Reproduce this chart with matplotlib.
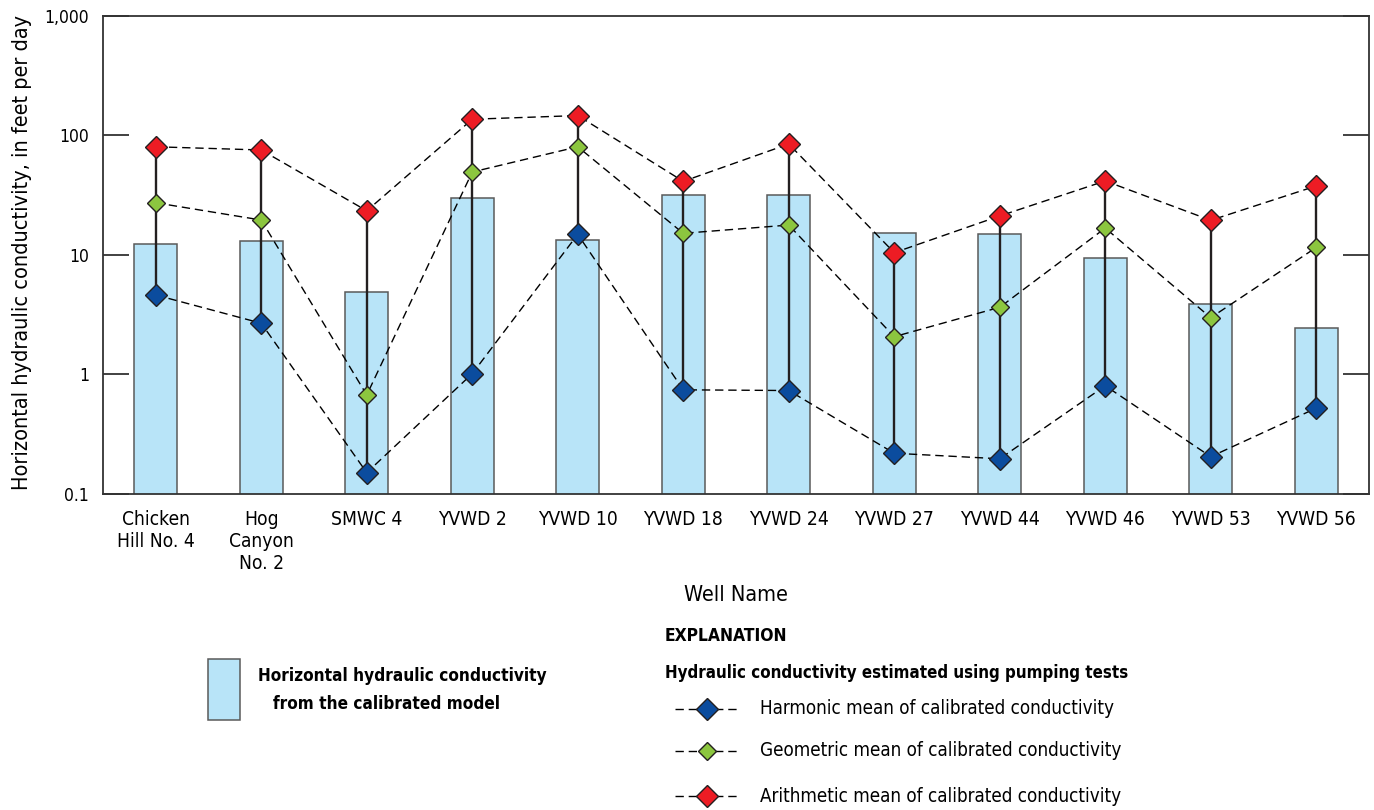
import matplotlib
matplotlib.use("Agg")
import matplotlib.pyplot as plt
from matplotlib.patches import Rectangle
from matplotlib.lines import Line2D

plt.rcParams['font.family'] = ['DejaVu Sans']
plt.rcParams['font.stretch'] = 'condensed'

# data (feet per day)
wells = ['Chicken\nHill No. 4', 'Hog\nCanyon\nNo. 2', 'SMWC 4', 'YVWD 2', 'YVWD 10', 'YVWD 18',
         'YVWD 24', 'YVWD 27', 'YVWD 44', 'YVWD 46', 'YVWD 53', 'YVWD 56']
model_k = [12.2, 13.0, 4.85, 29.8, 13.3, 31.8, 31.4, 15.3, 14.8, 9.33, 3.89, 2.45]
harmonic = [4.6, 2.67, 0.15, 1.01, 14.8, 0.74, 0.73, 0.218, 0.196, 0.80, 0.204, 0.52]
geometric = [27.2, 19.5, 0.67, 49.2, 80, 15.1, 17.7, 2.06, 3.63, 16.7, 2.97, 11.5]
arithmetic = [80, 75.2, 23.3, 136, 146, 41.1, 84.4, 10.4, 21.1, 41.4, 19.4, 37.6]

bar_color = '#B8E4F8'
bar_edge = '#5A5A5A'
blue = '#0B4C9E'
green = '#8CC63F'
red = '#ED1C24'
dark = '#231F20'

W, H = 1374, 810
fig = plt.figure(figsize=(W / 100, H / 100), dpi=100)
ax = fig.add_axes([103 / W, 1 - 493.7 / H, 1266 / W, 478 / H])

x = list(range(len(wells)))
ax.bar(x, model_k, width=0.405, color=bar_color, edgecolor=bar_edge, linewidth=1.1, zorder=1)

# range line from harmonic to arithmetic mean
ax.vlines(x, harmonic, arithmetic, color=dark, linewidth=1.7, zorder=2)

dash = (0, (6, 3.5))
series = [(harmonic, blue, 11.5), (geometric, green, 9), (arithmetic, red, 11.5)]
for vals, col, ms in series:
    ax.plot(x, vals, color='black', linewidth=1.0, linestyle=dash, zorder=3)
    ax.plot(x, vals, linestyle='none', marker='D', markersize=ms, markerfacecolor=col,
            markeredgecolor=dark, markeredgewidth=1.0, zorder=4)

ax.set_yscale('log')
ax.set_ylim(0.1, 1000)
ax.set_xlim(-0.5, 11.5)
ax.set_yticks([0.1, 1, 10, 100, 1000])
ax.set_yticklabels(['0.1', '1', '10', '100', '1,000'])
ax.minorticks_off()
ax.tick_params(axis='y', direction='in', length=19, width=1.3, color='#333333',
               labelsize=12.5, right=True, pad=10)
ax.set_xticks(x)
ax.set_xticklabels(wells, fontsize=13.8, va='top', linespacing=1.2)
ax.tick_params(axis='x', length=0, pad=12)
for s in ax.spines.values():
    s.set_color('#333333')
    s.set_linewidth(1.3)

fig.text(22 / W, 1 - 252 / H, 'Horizontal hydraulic conductivity, in feet per day', fontsize=15.5,
         rotation=90, ha='center', va='center')
fig.text(736 / W, 1 - 595 / H, 'Well Name', fontsize=15.5, ha='center', va='center')

# explanation
fig.add_artist(Rectangle((208 / W, 1 - 720 / H), 32 / W, 61 / H, transform=fig.transFigure,
                         facecolor=bar_color, edgecolor=bar_edge, linewidth=1.1))
fig.text(258 / W, 1 - 676 / H, 'Horizontal hydraulic conductivity', fontsize=12.3,
         fontweight='bold', va='center')
fig.text(273 / W, 1 - 704 / H, 'from the calibrated model', fontsize=12.3,
         fontweight='bold', va='center')
fig.text(665 / W, 1 - 636 / H, 'EXPLANATION', fontsize=12.5, fontweight='bold', va='center')
fig.text(665 / W, 1 - 673 / H, 'Hydraulic conductivity estimated using pumping tests',
         fontsize=12.2, fontweight='bold', va='center')
entries = [(blue, 11.5, 709, 'Harmonic mean of calibrated conductivity'),
           (green, 9, 751, 'Geometric mean of calibrated conductivity'),
           (red, 11.5, 796, 'Arithmetic mean of calibrated conductivity')]
for col, ms, yp, label in entries:
    yf = 1 - yp / H
    fig.add_artist(Line2D([675 / W, 740 / W], [yf, yf], transform=fig.transFigure,
                          color='black', linewidth=1.0, linestyle=dash))
    fig.add_artist(Line2D([707 / W], [yf], transform=fig.transFigure, linestyle='none',
                          marker='D', markersize=ms, markerfacecolor=col,
                          markeredgecolor=dark, markeredgewidth=1.0))
    fig.text(760 / W, yf, label, fontsize=13.5, va='center')

fig.savefig('out.png', dpi=100)
